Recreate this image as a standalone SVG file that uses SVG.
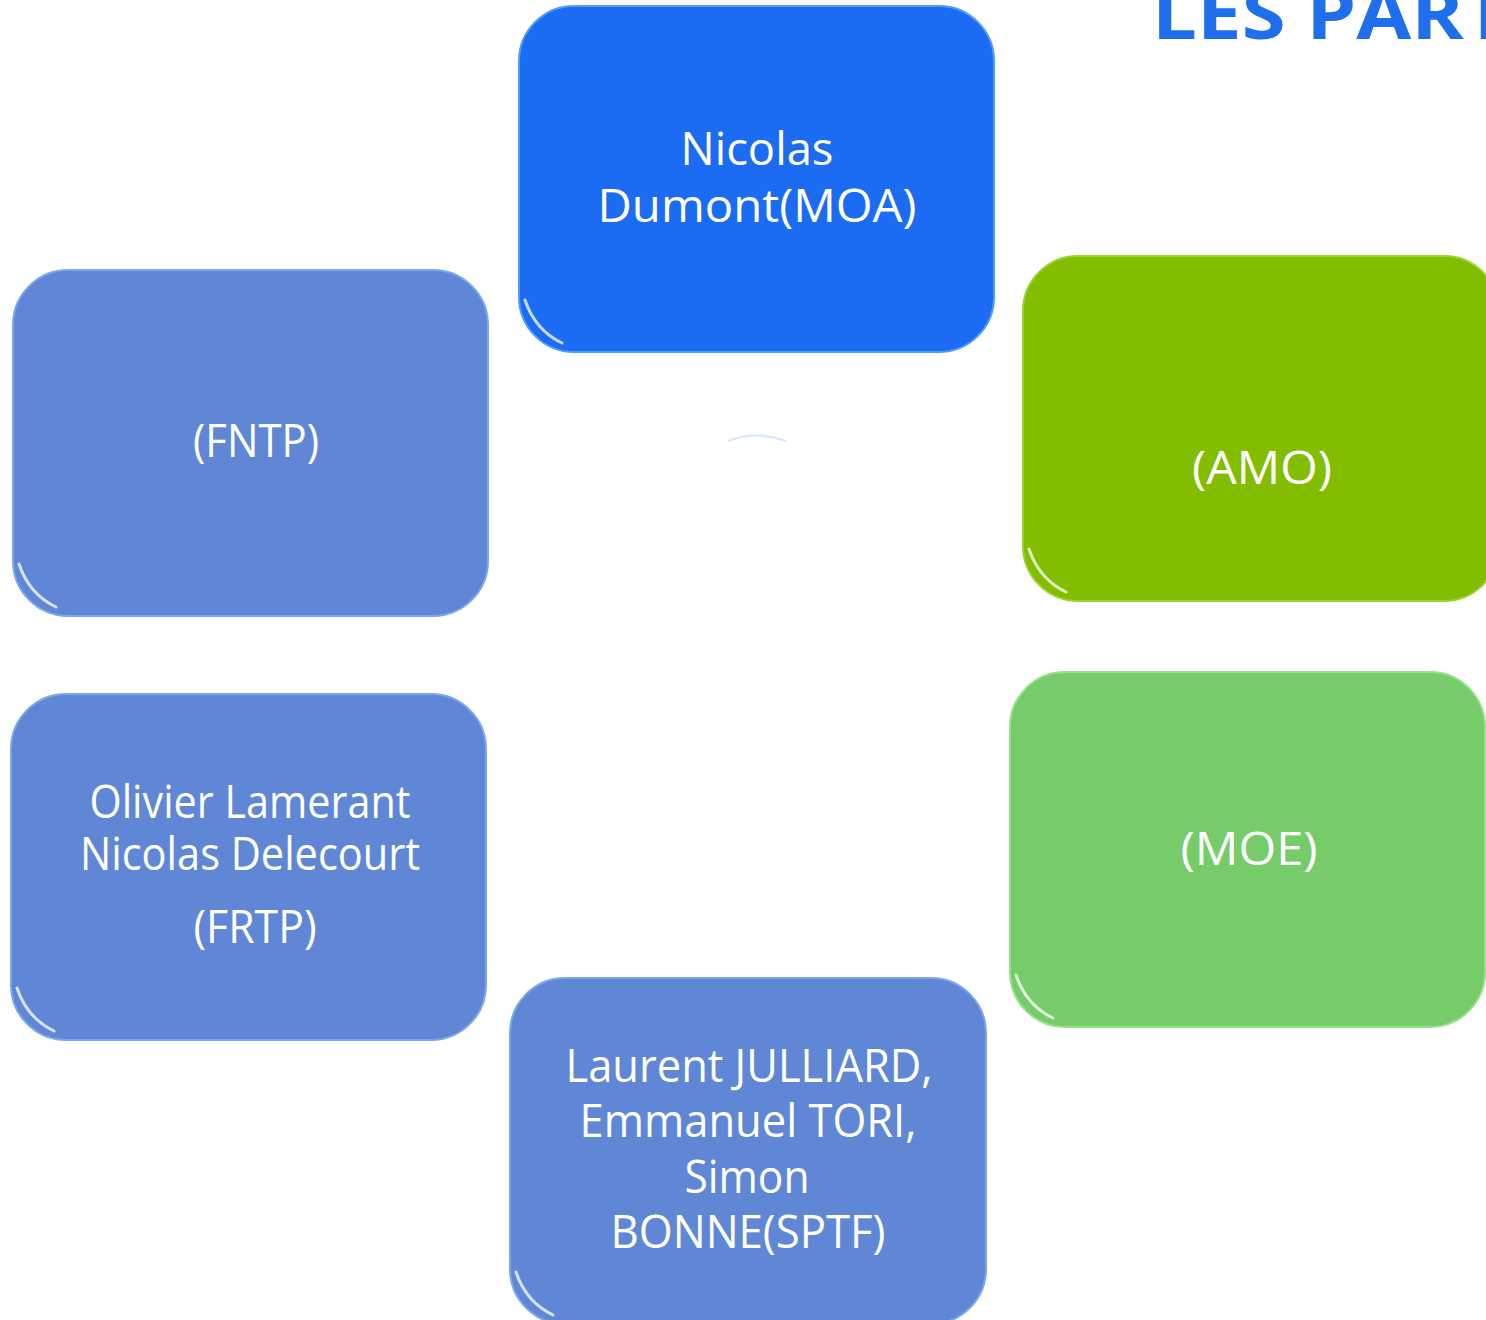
<svg xmlns="http://www.w3.org/2000/svg" width="1486" height="1320" viewBox="0 0 1486 1320">
<style>
.lbl{font-family:"Open Sans","Noto Sans",sans-serif;font-size:46px;fill:#ffffff;text-anchor:middle}
.title{font-family:"Open Sans","Noto Sans",sans-serif;font-size:70px;font-weight:bold;fill:#1f6fec}
.hl{fill:none;stroke:url(#hlg);stroke-width:4;stroke-linecap:round}
.bl{fill:none;stroke:#ffffff;stroke-opacity:0.75;stroke-width:3;stroke-linecap:round}
</style>
<defs>
<linearGradient id="hlg" x1="0" y1="0" x2="1" y2="0">
<stop offset="0" stop-color="#c8f0ff" stop-opacity="0"/>
<stop offset="0.1" stop-color="#c8f0ff" stop-opacity="0.75"/>
<stop offset="0.9" stop-color="#c8f0ff" stop-opacity="0.75"/>
<stop offset="1" stop-color="#c8f0ff" stop-opacity="0"/>
</linearGradient>
</defs>
<rect width="1486" height="1320" fill="#ffffff"/>
<text class="title" x="1152" y="39" textLength="358" lengthAdjust="spacingAndGlyphs">LES PART</text>
<path d="M728 441 Q757 430 786 441" fill="none" stroke="#d6e6fb" stroke-width="2"/>
<g id="connectors"></g>
<g id="node-moa">
<rect x="519" y="6" width="475" height="346" rx="55" fill="#1b6cf2" stroke="#4f9cf8" stroke-width="2"/>
<path class="hl" d="M560 12 L952 12"/>
<path class="bl" d="M525 300 Q535 330 562 343"/>
<text class="lbl" x="757" y="165" textLength="153" lengthAdjust="spacingAndGlyphs">Nicolas</text>
<text class="lbl" x="757" y="222" textLength="319" lengthAdjust="spacingAndGlyphs">Dumont(MOA)</text>
</g>
<g id="node-fntp">
<rect x="13" y="270" width="475" height="346" rx="55" fill="#5f87d6" stroke="#7aa8ee" stroke-width="2"/>
<path class="hl" d="M55 276 L447 276"/>
<path class="bl" d="M19 564 Q29 594 56 607"/>
<text class="lbl" x="256" y="457" textLength="126" lengthAdjust="spacingAndGlyphs">(FNTP)</text>
</g>
<g id="node-amo">
<rect x="1023" y="256" width="476" height="345" rx="55" fill="#82bd00" stroke="#9ad42a" stroke-width="2"/>
<path class="hl" d="M1065 262 L1460 262"/>
<path class="bl" d="M1029 549 Q1039 579 1066 592"/>
<text class="lbl" x="1262" y="484" textLength="140" lengthAdjust="spacingAndGlyphs">(AMO)</text>
</g>
<g id="node-frtp">
<rect x="11" y="694" width="475" height="346" rx="55" fill="#5f87d6" stroke="#7aa8ee" stroke-width="2"/>
<path class="hl" d="M53 700 L445 700"/>
<path class="bl" d="M17 988 Q27 1018 54 1031"/>
<text class="lbl" x="250" y="818" textLength="321" lengthAdjust="spacingAndGlyphs">Olivier Lamerant</text>
<text class="lbl" x="250" y="870" textLength="340" lengthAdjust="spacingAndGlyphs">Nicolas Delecourt</text>
<text class="lbl" x="255" y="943" textLength="123" lengthAdjust="spacingAndGlyphs">(FRTP)</text>
</g>
<g id="node-moe">
<rect x="1010" y="672" width="475" height="355" rx="55" fill="#77cc6a" stroke="#95e088" stroke-width="2"/>
<path class="hl" d="M1052 678 L1444 678"/>
<path class="bl" d="M1016 975 Q1026 1005 1053 1018"/>
<text class="lbl" x="1249" y="865" textLength="137" lengthAdjust="spacingAndGlyphs">(MOE)</text>
</g>
<g id="node-sptf">
<rect x="510" y="978" width="476" height="346" rx="55" fill="#5f87d6" stroke="#7aa8ee" stroke-width="2"/>
<path class="hl" d="M552 984 L944 984"/>
<path class="bl" d="M516 1272 Q526 1302 553 1315"/>
<text class="lbl" x="749" y="1082" textLength="367" lengthAdjust="spacingAndGlyphs">Laurent JULLIARD,</text>
<text class="lbl" x="748" y="1137" textLength="337" lengthAdjust="spacingAndGlyphs">Emmanuel TORI,</text>
<text class="lbl" x="747" y="1193" textLength="125" lengthAdjust="spacingAndGlyphs">Simon</text>
<text class="lbl" x="748" y="1248" textLength="275" lengthAdjust="spacingAndGlyphs">BONNE(SPTF)</text>
</g>
</svg>
